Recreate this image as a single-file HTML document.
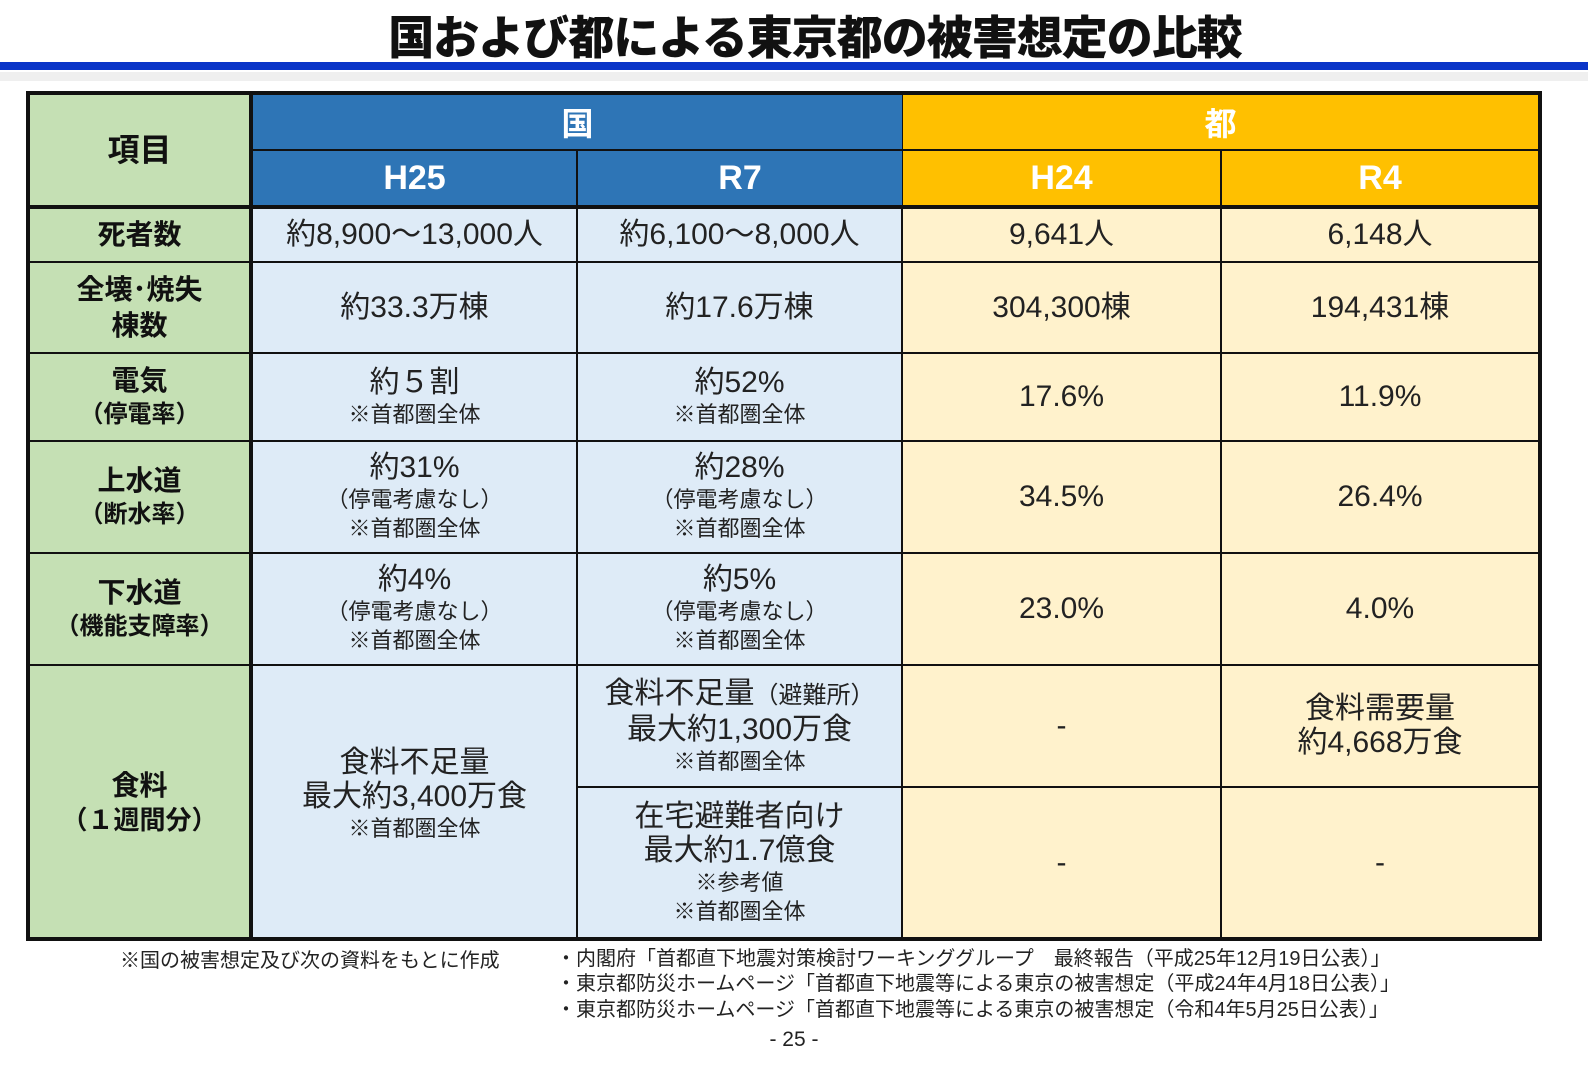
<!DOCTYPE html>
<html lang="ja"><head><meta charset="utf-8">
<style>
html,body{margin:0;padding:0;background:#fff;}
body{width:1588px;height:1077px;position:relative;overflow:hidden;font-family:"Liberation Sans","Noto Sans CJK JP",sans-serif;color:#222;}
.title{position:absolute;left:0;width:1630px;top:2px;text-align:center;font-size:46px;font-weight:900;letter-spacing:-1px;color:#111;}
.bar1{position:absolute;left:0;top:62px;width:1588px;height:8px;background:#0a35c8;}
.bar2{position:absolute;left:0;top:72px;width:1588px;height:9px;background:#efefef;}
.tbl{position:absolute;left:26px;top:91px;width:1516px;height:850px;background:#111;}
.c{position:absolute;display:flex;flex-direction:column;align-items:center;justify-content:center;text-align:center;box-sizing:border-box;}
.g{background:#c5e0b4;font-weight:700;font-size:28px;line-height:36px;color:#111;}
.g .s{font-size:24px;line-height:32px;}
.bh{background:#2e75b6;color:#fff;font-weight:700;font-size:34px;}
.yh{background:#ffc000;color:#fff;font-weight:700;font-size:34px;}
.lb{background:#deebf7;font-size:30px;line-height:34px;}
.ly{background:#fff2cc;font-size:30px;line-height:34px;}
.s{font-size:22px;line-height:29px;}
.foot{position:absolute;font-size:20px;color:#222;white-space:nowrap;}
</style></head><body>
<div class="title">国および都による東京都の被害想定の比較</div>
<div class="bar1"></div>
<div class="bar2"></div>

<div class="tbl">
<div class="c g" style="left:4px;top:4px;width:219px;height:110px;font-size:32px;">項目</div>
<div class="c bh" style="left:227px;top:4px;width:649px;height:54px;font-size:32px;">国</div>
<div class="c yh" style="left:877px;top:4px;width:635px;height:54px;font-size:32px;">都</div>
<div class="c bh" style="left:227px;top:60px;width:323px;height:54px;">H25</div>
<div class="c bh" style="left:552px;top:60px;width:324px;height:54px;">R7</div>
<div class="c yh" style="left:877px;top:60px;width:317px;height:54px;">H24</div>
<div class="c yh" style="left:1196px;top:60px;width:316px;height:54px;">R4</div>

<div class="c g" style="left:4px;top:118px;width:219px;height:52px;">死者数</div>
<div class="c lb" style="left:227px;top:118px;width:323px;height:52px;">約8,900～13,000人</div>
<div class="c lb" style="left:552px;top:118px;width:323px;height:52px;">約6,100～8,000人</div>
<div class="c ly" style="left:877px;top:118px;width:317px;height:52px;">9,641人</div>
<div class="c ly" style="left:1196px;top:118px;width:316px;height:52px;">6,148人</div>

<div class="c g" style="left:4px;top:172px;width:219px;height:89px;"><div>全壊･焼失</div><div>棟数</div></div>
<div class="c lb" style="left:227px;top:172px;width:323px;height:89px;">約33.3万棟</div>
<div class="c lb" style="left:552px;top:172px;width:323px;height:89px;">約17.6万棟</div>
<div class="c ly" style="left:877px;top:172px;width:317px;height:89px;">304,300棟</div>
<div class="c ly" style="left:1196px;top:172px;width:316px;height:89px;">194,431棟</div>

<div class="c g" style="left:4px;top:263px;width:219px;height:86px;"><div>電気</div><div class="s">（停電率）</div></div>
<div class="c lb" style="left:227px;top:263px;width:323px;height:86px;"><div>約５割</div><div class="s">※首都圏全体</div></div>
<div class="c lb" style="left:552px;top:263px;width:323px;height:86px;"><div>約52%</div><div class="s">※首都圏全体</div></div>
<div class="c ly" style="left:877px;top:263px;width:317px;height:86px;">17.6%</div>
<div class="c ly" style="left:1196px;top:263px;width:316px;height:86px;">11.9%</div>

<div class="c g" style="left:4px;top:351px;width:219px;height:110px;"><div>上水道</div><div class="s">（断水率）</div></div>
<div class="c lb" style="left:227px;top:351px;width:323px;height:110px;"><div>約31%</div><div class="s">（停電考慮なし）</div><div class="s">※首都圏全体</div></div>
<div class="c lb" style="left:552px;top:351px;width:323px;height:110px;"><div>約28%</div><div class="s">（停電考慮なし）</div><div class="s">※首都圏全体</div></div>
<div class="c ly" style="left:877px;top:351px;width:317px;height:110px;">34.5%</div>
<div class="c ly" style="left:1196px;top:351px;width:316px;height:110px;">26.4%</div>

<div class="c g" style="left:4px;top:463px;width:219px;height:110px;"><div>下水道</div><div class="s">（機能支障率）</div></div>
<div class="c lb" style="left:227px;top:463px;width:323px;height:110px;"><div>約4%</div><div class="s">（停電考慮なし）</div><div class="s">※首都圏全体</div></div>
<div class="c lb" style="left:552px;top:463px;width:323px;height:110px;"><div>約5%</div><div class="s">（停電考慮なし）</div><div class="s">※首都圏全体</div></div>
<div class="c ly" style="left:877px;top:463px;width:317px;height:110px;">23.0%</div>
<div class="c ly" style="left:1196px;top:463px;width:316px;height:110px;">4.0%</div>

<div class="c g" style="left:4px;top:575px;width:219px;height:271px;"><div>食料</div><div class="s" style="font-size:26px">（１週間分）</div></div>
<div class="c lb" style="left:227px;top:575px;width:323px;height:271px;padding-bottom:14px;"><div>食料不足量</div><div>最大約3,400万食</div><div class="s">※首都圏全体</div></div>
<div class="c lb" style="left:552px;top:575px;width:323px;height:120px;"><div>食料不足量<span style="font-size:24px">（避難所）</span></div><div>最大約1,300万食</div><div class="s">※首都圏全体</div></div>
<div class="c lb" style="left:552px;top:697px;width:323px;height:149px;"><div>在宅避難者向け</div><div>最大約1.7億食</div><div class="s">※参考値</div><div class="s">※首都圏全体</div></div>
<div class="c ly" style="left:877px;top:575px;width:317px;height:120px;">-</div>
<div class="c ly" style="left:1196px;top:575px;width:316px;height:120px;"><div>食料需要量</div><div>約4,668万食</div></div>
<div class="c ly" style="left:877px;top:697px;width:317px;height:149px;">-</div>
<div class="c ly" style="left:1196px;top:697px;width:316px;height:149px;">-</div>
</div>

<div class="foot" style="left:120px;top:944px;">※国の被害想定及び次の資料をもとに作成</div>
<div class="foot" style="left:556px;top:942px;">・内閣府「首都直下地震対策検討ワーキンググループ　最終報告（平成25年12月19日公表）」</div>
<div class="foot" style="left:556px;top:967px;">・東京都防災ホームページ「首都直下地震等による東京の被害想定（平成24年4月18日公表）」</div>
<div class="foot" style="left:556px;top:993px;">・東京都防災ホームページ「首都直下地震等による東京の被害想定（令和4年5月25日公表）」</div>
<div class="foot" style="left:0;width:1588px;text-align:center;top:1028px;font-size:21px;">- 25 -</div>
</body></html>
